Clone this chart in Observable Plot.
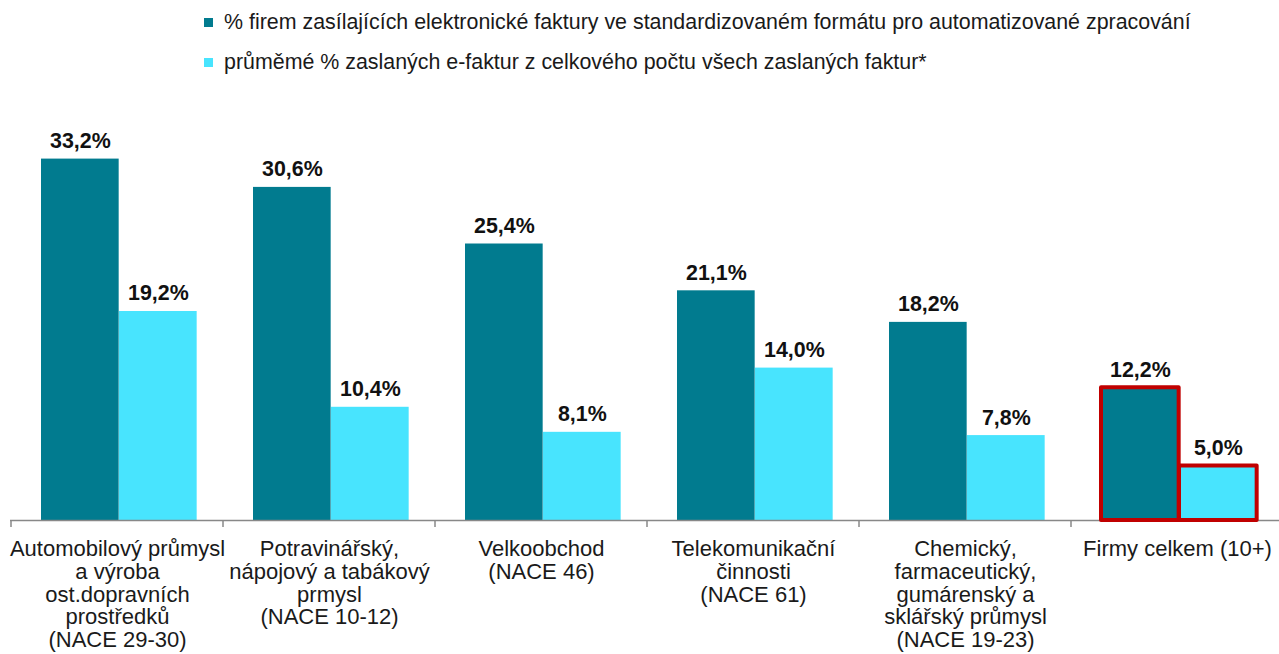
<!DOCTYPE html>
<html><head><meta charset="utf-8">
<script src="https://cdn.jsdelivr.net/npm/d3@7"></script>
<script src="https://cdn.jsdelivr.net/npm/@observablehq/plot@0.6"></script>
<style>
body{margin:0;background:#fff;font-family:"Liberation Sans",Arial,sans-serif;}
#legend{height:95px;position:relative;}
.item{position:absolute;left:204px;font-size:21.4px;line-height:24px;color:#1a1a1a;display:flex;align-items:center;white-space:nowrap;}
.sw{width:9px;height:9px;margin-right:11px;flex:none;}
g[aria-label="category-labels"] text{letter-spacing:0.35px;}
</style></head><body>
<div id="legend"></div><div id="chart"></div>
<script>
const categories = [
  "Automobilový průmysl\na výroba\nost.dopravních\nprostředků\n(NACE 29-30)",
  "Potravinářský,\nnápojový a tabákový\nprmysl\n(NACE 10-12)",
  "Velkoobchod\n(NACE 46)",
  "Telekomunikační\nčinnosti\n(NACE 61)",
  "Chemický,\nfarmaceutický,\ngumárenský a\nsklářský průmysl\n(NACE 19-23)",
  "Firmy celkem (10+)"
];
const seriesNames = [
  "% firem zasílajících elektronické faktury ve standardizovaném formátu pro automatizované zpracování",
  "průměmé % zaslaných e-faktur z celkového počtu všech zaslaných faktur*"
];
const firmsSending = [33.2, 30.6, 25.4, 21.1, 18.2, 12.2];
const avgShare = [19.2, 10.4, 8.1, 14.0, 7.8, 5.0];
const highlighted = "Firmy celkem (10+)";
const colors = ["#017B8F", "#48E4FE"];

// legend
const legend = document.getElementById("legend");
seriesNames.forEach((s, i) => {
  const d = document.createElement("div");
  d.className = "item";
  d.style.top = (10 + i * 40) + "px";
  d.innerHTML = `<span class="sw" style="background:${colors[i]}"></span><span></span>`;
  d.lastChild.textContent = s;
  legend.appendChild(d);
});

const rows = categories.flatMap((c, i) => [
  {cat: c, series: 0, value: firmsSending[i]},
  {cat: c, series: 1, value: avgShare[i]}
]);

const W = 1279, H = 559;
const xRange = [10, 1284];
const step = (xRange[1] - xRange[0]) / categories.length;
const outer = 30, barW = 78;
const inset = s => ({insetLeft: outer + s * barW, insetRight: step - outer - (s + 1) * barW});
const labelDx = s => outer + s * barW + barW / 2 - step / 2;
const fmt = v => d3.format(".1f")(v).replace(".", ",") + "%";

function boundaryTicks(index, scales) {
  const x = scales.x, y = scales.y;
  const bw = typeof x.bandwidth === "function" ? x.bandwidth() : x.bandwidth;
  const y0 = y(0);
  const xs = categories.map(c => x(c));
  xs.push(x(categories[categories.length - 1]) + bw);
  const g = d3.create("svg:g").attr("stroke", "#888").attr("stroke-width", 1.5);
  xs.forEach(v => g.append("line").attr("x1", v).attr("x2", v).attr("y1", y0).attr("y2", y0 + 7));
  return g.node();
}

const marks = [];
[0, 1].forEach(s => {
  const data = rows.filter(d => d.series === s);
  marks.push(Plot.barY(data, {x: "cat", y: "value", fill: colors[s], ...inset(s)}));
});
marks.push(Plot.ruleY([0], {stroke: "#888", strokeWidth: 1.5}));
marks.push(boundaryTicks);
[0, 1].forEach(s => {
  const data = rows.filter(d => d.series === s && d.cat === highlighted);
  marks.push(Plot.barY(data, {x: "cat", y: "value", fill: "none", stroke: "#C00000", strokeWidth: 4, strokeLinejoin: "round", ...inset(s)}));
});
[0, 1].forEach(s => {
  const data = rows.filter(d => d.series === s);
  marks.push(Plot.text(data, {x: "cat", y: "value", text: d => fmt(d.value), dx: labelDx(s), dy: -11,
    lineAnchor: "bottom", fontSize: 21.4, fontWeight: "bold", fill: "#111"}));
});
marks.push(Plot.text(categories, {x: d => d, y: () => 0, text: d => d, dy: 19, lineAnchor: "top",
  fontSize: 22, lineHeight: 1.04, fill: "#1a1a1a", ariaLabel: "category-labels"}));

const chart = Plot.plot({
  width: W, height: H,
  marginTop: 44, marginBottom: 134, marginLeft: 10, marginRight: 0,
  style: {fontFamily: "'Liberation Sans', Arial, sans-serif", background: "#fff", overflow: "visible"},
  x: {domain: categories, range: xRange, padding: 0, axis: null},
  y: {domain: [0, 35], axis: null},
  marks
});
document.getElementById("chart").appendChild(chart);
</script>
</body></html>
